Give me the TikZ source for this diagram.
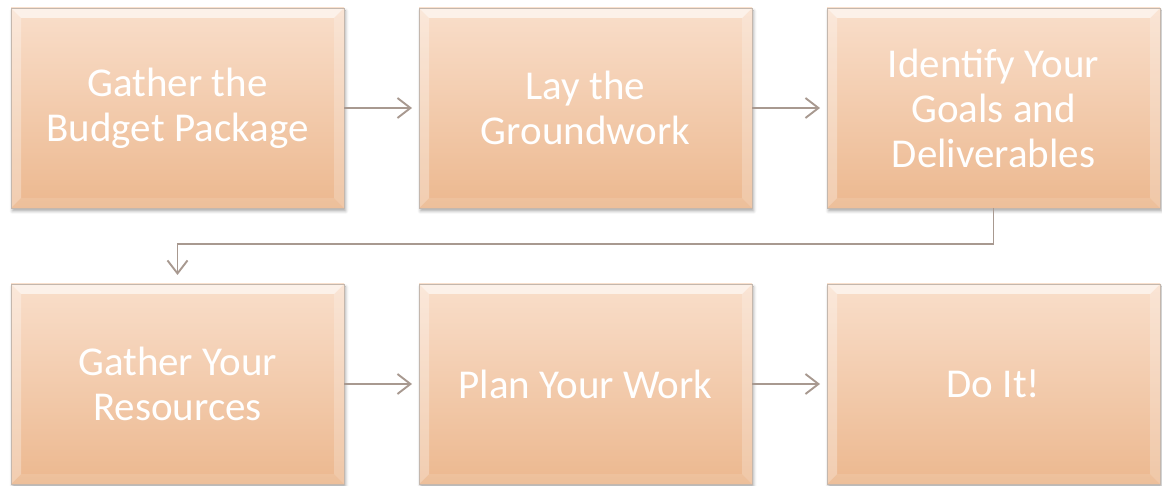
\documentclass[tikz,border=0pt]{standalone}
\usepackage{fontspec}
\setmainfont{Carlito}
\usetikzlibrary{positioning, arrows.meta, shadows.blur}

\definecolor{peachtop}{HTML}{F9DECA}
\definecolor{peachbot}{HTML}{ECB88F}
\definecolor{boxline}{HTML}{C4B7AD}
\definecolor{linkgray}{HTML}{A89990}

\begin{document}
\begin{tikzpicture}[>={Straight Barb[length=13pt,width=20pt,line width=1.9pt]},
      node distance=75pt,
      stage/.style={rectangle, minimum width=333pt, minimum height=200pt,
        inner sep=0pt, outer sep=0pt, top color=peachtop, bottom color=peachbot,
        draw=boxline, line width=0.8pt,
        blur shadow={shadow xshift=1.5pt, shadow yshift=-3pt,
          shadow blur radius=3pt, shadow opacity=35},
        path picture={
          % bevelled rim: light top and sides, faint bottom
          \coordinate (bnw) at (path picture bounding box.north west);
          \coordinate (bne) at (path picture bounding box.north east);
          \coordinate (bsw) at (path picture bounding box.south west);
          \coordinate (bse) at (path picture bounding box.south east);
          \fill[white, opacity=0.6] (bnw) -- (bne) -- ([shift={(-10pt,-10pt)}]bne)
            -- ([shift={(10pt,-10pt)}]bnw) -- cycle;
          \fill[white, opacity=0.3] (bnw) -- ([shift={(10pt,-10pt)}]bnw)
            -- ([shift={(10pt,10pt)}]bsw) -- (bsw) -- cycle;
          \fill[white, opacity=0.22] (bne) -- ([shift={(-10pt,-10pt)}]bne)
            -- ([shift={(-10pt,10pt)}]bse) -- (bse) -- cycle;
          \fill[white, opacity=0.1] (bsw) -- ([shift={(10pt,10pt)}]bsw)
            -- ([shift={(-10pt,10pt)}]bse) -- (bse) -- cycle;
        },
        text=white, align=center, font=\fontsize{41}{45}\selectfont},
      link/.style={->, draw=linkgray, line width=1.8pt, shorten >=7pt}]

    \useasboundingbox (0,0) rectangle (1162pt,485pt);

    \node[stage] (gather) at (177.5pt,377pt) {Gather the\\Budget Package};
    \node[stage] (lay) [right=of gather] {Lay the\\Groundwork};
    \node[stage] (goals) [right=of lay] {Identify Your\\Goals and\\Deliverables};
    \node[stage] (resources) [below=76pt of gather] {Gather Your\\Resources};
    \node[stage] (plan) [right=of resources] {Plan Your Work};
    \node[stage] (doit) [right=of plan] {Do It!};

    \draw[link] (gather) -- (lay);
    \draw[link] (lay) -- (goals);
    \draw[link, shorten >=9pt] (goals.south) -- ++(0,-36pt) -| (resources.north);
    \draw[link] (resources) -- (plan);
    \draw[link] (plan) -- (doit);
\end{tikzpicture}
\end{document}
